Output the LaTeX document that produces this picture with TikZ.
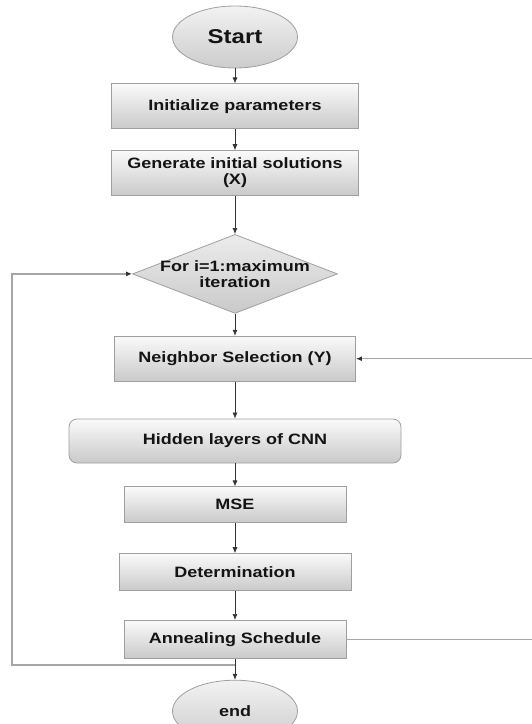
\documentclass[tikz,border=0pt]{standalone}
\usepackage{fontspec}
\setmainfont{Liberation Sans}[FakeStretch=1.2]
\usetikzlibrary{shapes,positioning,arrows.meta}
\tikzset{
procbox/.style={
	draw=gray!75, line width=0.8pt, top color=gray!4, bottom color=gray!42,
	text=black!92, align=center, inner sep=2pt,
	font=\bfseries\fontsize{15}{16}\selectfont},
terminal/.style={
	ellipse, draw=gray!75, line width=0.8pt, top color=gray!10, bottom color=gray!40,
	text=black!92, minimum width=125pt, minimum height=62pt, inner sep=0pt},
decision/.style={
	diamond, draw=gray!75, line width=0.8pt, top color=gray!15, bottom color=gray!42,
	minimum width=205pt, minimum height=79pt, inner sep=0pt},
flow/.style={-{Latex[length=6pt,width=5pt]}, draw=black!80, line width=0.7pt},
backline/.style={draw=gray!70, line width=1.5pt}
}

\begin{document}
\begin{tikzpicture}
	\useasboundingbox (0,0) rectangle (532pt,-724pt);
	\node[terminal, font=\bfseries\fontsize{20}{21}\selectfont] (start) at (235pt,-37pt) {Start};
	\node[procbox, minimum width=247pt, minimum height=45pt, below=15pt of start] (init) {Initialize parameters};
	\node[procbox, minimum width=247pt, minimum height=45pt, below=21pt of init] (gen) {Generate initial solutions\\(X)};
	\node[decision, below=38pt of gen,
		label={[text=black!92, align=center, font=\bfseries\fontsize{15}{16}\selectfont]center:{For i=1:maximum\\iteration}}] (loop) {};
	\node[procbox, minimum width=241pt, minimum height=45pt, below=22pt of loop] (nbr) {Neighbor Selection (Y)};
	\node[procbox, rounded corners=8pt, minimum width=332pt, minimum height=44pt, below=37pt of nbr] (hidden) {Hidden layers of CNN};
	\node[procbox, minimum width=222pt, minimum height=36pt, below=23pt of hidden] (mse) {MSE};
	\node[procbox, minimum width=232pt, minimum height=37pt, below=30pt of mse] (det) {Determination};
	\node[procbox, minimum width=222pt, minimum height=38pt, below=29pt of det] (ann) {Annealing Schedule};
	\node[terminal, font=\bfseries\fontsize{15}{16}\selectfont, below=21pt of ann] (end) {end};

	% main flow
	\draw[flow] (start) -- (init);
	\draw[flow] (init) -- (gen);
	\draw[flow] (gen) -- (loop);
	\draw[flow] (loop) -- (nbr);
	\draw[flow] (nbr) -- (hidden);
	\draw[flow] (hidden) -- (mse);
	\draw[flow] (mse) -- (det);
	\draw[flow] (det) -- (ann);
	\draw[flow] (ann) -- (end);

	% loops back
	\coordinate[below=6pt of ann] (join);
	\coordinate (lft) at (12pt,0 |- loop.west);
	\coordinate (rgt) at (532pt,0);
	\draw[backline, -{Latex[length=6pt,width=5pt,color=black!80]}] (join) -| (lft) -- (loop.west);
	\draw[backline] (ann.east) -- (ann.east -| rgt);
	\draw[backline, -{Latex[length=6pt,width=5pt,color=black!80]}] (nbr.east -| rgt) -- (nbr.east);
\end{tikzpicture}
\end{document}
